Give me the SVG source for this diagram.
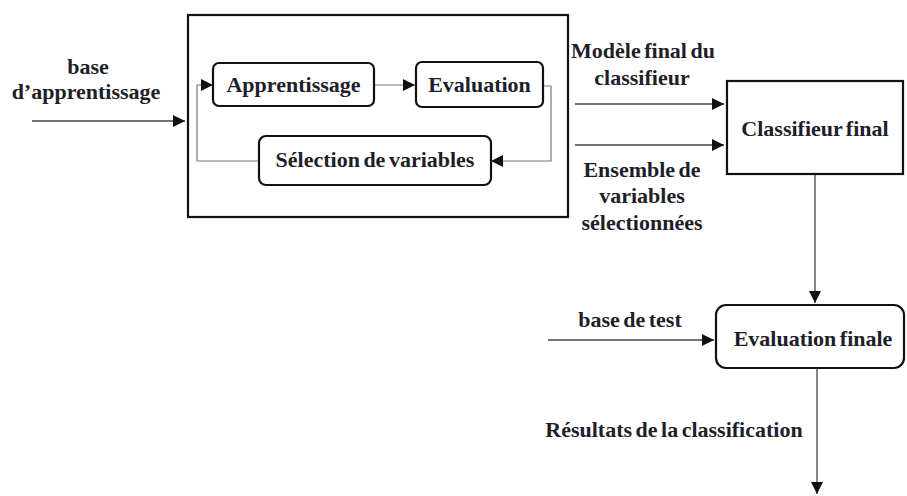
<svg xmlns="http://www.w3.org/2000/svg" width="907" height="496" viewBox="0 0 907 496">
  <style>
    .lbl { font-family: 'Liberation Serif', 'DejaVu Serif Condensed', 'DejaVu Serif', serif; font-weight: bold; font-size: 22px; fill: #1e1e2a; text-anchor: middle; word-spacing: -2px; }
    .box { fill: #ffffff; stroke: #111111; stroke-width: 2.2; }
    .frame { fill: #ffffff; stroke: #111111; stroke-width: 2.2; }
    .wire { fill: none; stroke: #444444; stroke-width: 1.3; }
    .loop { fill: none; stroke: #777777; stroke-width: 1.2; }
  </style>
  <defs>
    <marker id="head" markerUnits="userSpaceOnUse" markerWidth="14" markerHeight="12" refX="12" refY="6" orient="auto">
      <path d="M0,0 L12,6 L0,12 Z" fill="#111111"/>
    </marker>
  </defs>

  <rect width="907" height="496" fill="#ffffff"/>

  <!-- enclosing frame of the selection loop -->
  <g id="selection-frame">
    <rect class="frame" x="188" y="15" width="380" height="202"/>
  </g>

  <!-- connectors -->
  <g id="connectors">
    <line class="wire" x1="32" y1="121" x2="185" y2="121" marker-end="url(#head)"/>
    <line class="loop" x1="374" y1="85" x2="415" y2="85" marker-end="url(#head)"/>
    <polyline class="loop" points="543,86 551,86 551,161 491,161" marker-end="url(#head)"/>
    <polyline class="loop" points="259,161 197,161 197,85 213,85" marker-end="url(#head)"/>
    <line class="wire" x1="575" y1="104" x2="724" y2="104" marker-end="url(#head)"/>
    <line class="wire" x1="575" y1="145" x2="724" y2="145" marker-end="url(#head)"/>
    <line class="wire" x1="815" y1="174" x2="815" y2="303" marker-end="url(#head)"/>
    <line class="wire" x1="548" y1="340" x2="714" y2="340" marker-end="url(#head)"/>
    <line class="wire" x1="817" y1="368" x2="817" y2="494" marker-end="url(#head)"/>
  </g>

  <!-- edge labels -->
  <g id="labels">
    <text class="lbl" x="88" y="74">base</text>
    <text class="lbl" x="86" y="99">d’apprentissage</text>
    <text class="lbl" x="643" y="58">Modèle final du</text>
    <text class="lbl" x="642" y="85">classifieur</text>
    <text class="lbl" x="642" y="177">Ensemble de</text>
    <text class="lbl" x="642" y="203">variables</text>
    <text class="lbl" x="642" y="230">sélectionnées</text>
    <text class="lbl" x="630" y="327">base de test</text>
    <text class="lbl" x="674" y="437">Résultats de la classification</text>
  </g>

  <!-- nodes -->
  <g id="apprentissage">
    <rect class="box" x="213" y="63" width="161" height="43" rx="6"/>
    <text class="lbl" x="293.5" y="92">Apprentissage</text>
  </g>
  <g id="evaluation">
    <rect class="box" x="416" y="62" width="127" height="45" rx="6"/>
    <text class="lbl" x="479.5" y="92">Evaluation</text>
  </g>
  <g id="selection-variables">
    <rect class="box" x="259" y="136" width="232" height="49" rx="7"/>
    <text class="lbl" x="375" y="167">Sélection de variables</text>
  </g>
  <g id="classifieur-final">
    <rect class="box" x="727" y="81" width="176" height="93"/>
    <text class="lbl" x="815" y="136">Classifieur final</text>
  </g>
  <g id="evaluation-finale">
    <rect class="box" x="716" y="305" width="188" height="63" rx="10"/>
    <text class="lbl" x="813" y="346">Evaluation finale</text>
  </g>
</svg>
